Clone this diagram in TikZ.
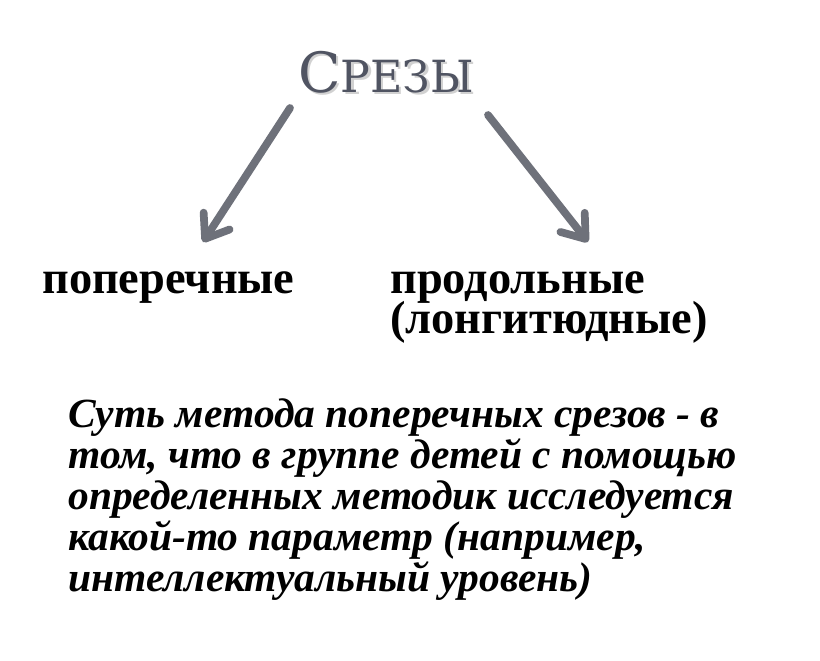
\documentclass[tikz,border=0pt]{standalone}
\usepackage{fontspec}
\setmainfont{Liberation Serif}
\newfontfamily\titlefont{DejaVu Serif}
\usetikzlibrary{arrows.meta,positioning}
\definecolor{slate}{HTML}{505462}
\definecolor{arrowgrey}{HTML}{6E717A}

\begin{document}
\begin{tikzpicture}[x=0.025cm,y=-0.025cm,
  heading/.style={font=\titlefont, text=slate, inner sep=0pt, anchor=base},
  kind/.style={font={\bfseries\fontsize{33}{28.3}\selectfont\lineskiplimit=-20pt},
    inner sep=0pt, anchor=base west, align=left},
  slice/.style={draw=arrowgrey, line width=5.5pt, line cap=round,
    -{Straight Barb[length=15pt,width=22pt,round]}}]
\useasboundingbox[fill=white] (0,0) rectangle (820,660);
% title, with its shadow
\node[heading, text=black!18] (titleshade) at (388.5,94.5)
  {\fontsize{39.5}{40}\selectfont С\fontsize{31.5}{32}\selectfont РЕЗЫ};
\node[heading] (title) at (386,92)
  {\fontsize{39.5}{40}\selectfont С\fontsize{31.5}{32}\selectfont РЕЗЫ};
% the two kinds
\node[kind] (cross) at (42,293) {поперечные};
\node[kind] (longi) at (390,333) {продольные\\(лонгитюдные)};
% arrows from the title
\coordinate (crossfrom) at (290,108);
\coordinate (crossto) at (203,242);
\coordinate (longifrom) at (488,115);
\coordinate (longito) at (588,242);
\draw[slice] (crossfrom) -- (crossto);
\draw[slice] (longifrom) -- (longito);
% what the method is about
\node[kind, font={\bfseries\itshape\fontsize{29.5}{29}\selectfont\lineskiplimit=-20pt}]
  (gist) at (68,591)
  {Суть метода поперечных срезов - в\\
   том, что в группе детей с помощью\\
   определенных методик исследуется\\
   какой-то параметр (например,\\
   интеллектуальный уровень)};
\end{tikzpicture}
\end{document}
